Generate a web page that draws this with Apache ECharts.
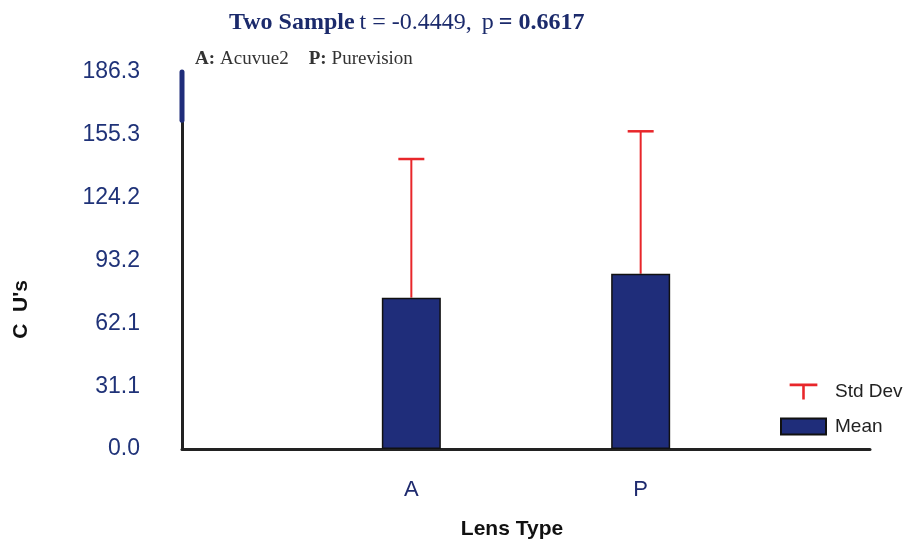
<!DOCTYPE html>
<html>
<head>
<meta charset="utf-8">
<script src="https://cdn.jsdelivr.net/npm/echarts@6/dist/echarts.min.js"></script>
<style>
  html, body { margin: 0; padding: 0; background: #fff; }
  #chart { width: 905px; height: 545px; }
</style>
</head>
<body>
<div id="chart"></div>
<script>
// lens types and their labels
var categories = ['A', 'P'];
var meanValues = [74.8, 86.6];
var stdDevValues = [68.5, 70.4];
var yTickLabels = ['0.0', '31.1', '62.1', '93.2', '124.2', '155.3', '186.3'];
var yMax = 186.3;
var yStep = yMax / 6;
// blue stub at the top of the y axis (from / to, in y units)
var axisStub = [162.5, 186.3];

var navy = '#1f2d7a';
var red = '#e8262a';

var chart = echarts.init(document.getElementById('chart'), null, { renderer: 'canvas' });

var option = {
  animation: false,
  backgroundColor: '#fff',
  title: [
    {
      left: 224,
      top: 6,
      text: '{b|Two Sample} {r|t = -0.4449,}  {r|p} {b|= 0.6617}',
      textStyle: {
        rich: {
          b: { fontFamily: 'Liberation Serif', fontWeight: 'bold', fontSize: 24, color: '#1b2a6b' },
          r: { fontFamily: 'Liberation Serif', fontWeight: 'normal', fontSize: 24, color: '#1b2a6b' }
        }
      }
    },
    {
      left: 190,
      top: 45,
      text: '{b|A:} {r|Acuvue2}    {b|P:} {r|Purevision}',
      textStyle: {
        rich: {
          b: { fontFamily: 'Liberation Serif', fontWeight: 'bold', fontSize: 19, color: '#333' },
          r: { fontFamily: 'Liberation Serif', fontWeight: 'normal', fontSize: 19, color: '#333' }
        }
      }
    }
  ],
  legend: {
    orient: 'vertical',
    left: 775,
    top: 377,
    itemWidth: 45,
    itemHeight: 16,
    itemGap: 16,
    textStyle: { fontFamily: 'Liberation Sans', fontSize: 19, color: '#222', padding: [0, 0, 0, 4] },
    data: [
      { name: 'Std Dev', icon: 'path://M0,0H26V2.5H14.2V15H11.8V2.5H0Z', itemStyle: { color: red } },
      { name: 'Mean', icon: 'rect', itemStyle: { color: navy } }
    ]
  },
  grid: { left: 182, right: 35, top: 72, bottom: 91 },
  xAxis: {
    type: 'value',
    min: -1,
    max: 2,
    interval: 1,
    name: 'Lens Type',
    nameLocation: 'middle',
    nameGap: 70,
    nameTextStyle: { fontFamily: 'Liberation Sans', fontWeight: 'bold', fontSize: 21, color: '#111', padding: [0, 28, 0, 0] },
    axisLine: { onZero: false, lineStyle: { color: '#222', width: 3 } },
    axisTick: { show: false },
    splitLine: { show: false },
    axisLabel: {
      margin: 30,
      fontFamily: 'Liberation Sans',
      fontSize: 22,
      color: '#1e2a6e',
      formatter: function (v) { return categories[v] || ''; }
    }
  },
  yAxis: {
    type: 'value',
    min: 0,
    max: yMax,
    interval: yStep,
    name: "C  U's",
    nameLocation: 'middle',
    nameGap: 150,
    nameTextStyle: { fontFamily: 'Liberation Sans', fontWeight: 'bold', fontSize: 21, color: '#111', padding: [0, 98, 0, 0] },
    axisLine: { show: true, onZero: false, lineStyle: { width: 3, color: '#222' } },
    axisTick: { show: false },
    splitLine: { show: false },
    axisLabel: {
      margin: 42,
      fontFamily: 'Liberation Sans',
      fontSize: 23,
      color: '#1f3278',
      formatter: function (v) { return yTickLabels[Math.round(v / yStep)]; }
    }
  },
  series: [
    {
      name: 'Mean',
      type: 'bar',
      barWidth: 59,
      itemStyle: { color: navy, borderColor: '#111', borderWidth: 1.5 },
      data: meanValues.map(function (v, i) { return [i, v]; }),
      z: 2
    },
    {
      name: 'Std Dev',
      type: 'custom',
      itemStyle: { color: red },
      data: meanValues.map(function (v, i) { return [i, v, v + stdDevValues[i]]; }),
      renderItem: function (params, api) {
        var base = api.coord([api.value(0), api.value(1)]);
        var top = api.coord([api.value(0), api.value(2)]);
        var half = 13;
        return {
          type: 'group',
          children: [
            { type: 'line', shape: { x1: base[0], y1: base[1], x2: top[0], y2: top[1] }, style: { stroke: red, lineWidth: 2 } },
            { type: 'line', shape: { x1: top[0] - half, y1: top[1], x2: top[0] + half, y2: top[1] }, style: { stroke: red, lineWidth: 2.5 } }
          ]
        };
      },
      z: 1
    },
    {
      name: 'axisStub',
      type: 'custom',
      silent: true,
      clip: false,
      data: [[-1, axisStub[0], axisStub[1]]],
      renderItem: function (params, api) {
        var p0 = api.coord([api.value(0), api.value(1)]);
        var p1 = api.coord([api.value(0), api.value(2)]);
        return {
          type: 'line',
          shape: { x1: p0[0], y1: p0[1], x2: p1[0], y2: p1[1] },
          style: { stroke: navy, lineWidth: 5, lineCap: 'round' }
        };
      },
      z: 5
    }
  ]
};

chart.setOption(option);
</script>
</body>
</html>
